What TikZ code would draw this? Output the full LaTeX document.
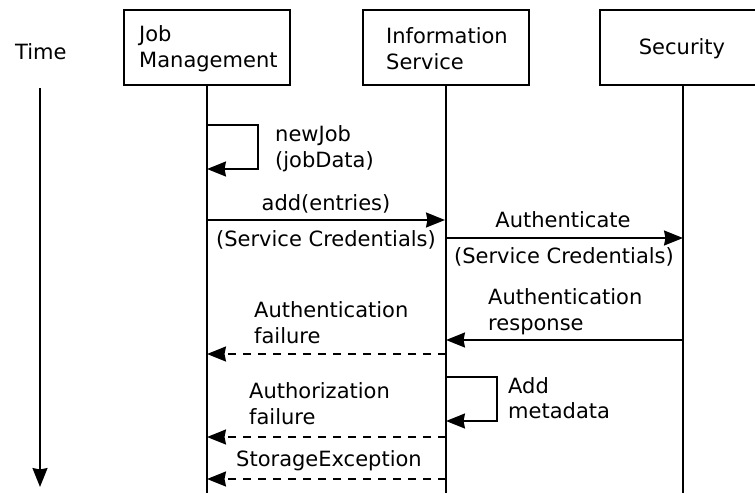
\documentclass[tikz,border=0pt]{standalone}
\usepackage{fontspec}
\setmainfont{DejaVu Sans}
\usetikzlibrary{arrows.meta}
\begin{document}
\begin{tikzpicture}[x=1pt,y=-1pt,
  every node/.style={font=\fontsize{21}{26}\selectfont},
  lane/.style={draw, line width=1.6pt, minimum width=166pt, minimum height=75pt, inner sep=0pt},
  lbl/.style={anchor=base west, inner sep=0pt},
  clbl/.style={anchor=base, inner sep=0pt},
  life/.style={line width=1.6pt},
  msg/.style={line width=1.6pt, -{Stealth[length=19pt,width=15pt,inset=1.5pt]}},
  reply/.style={msg, dash pattern=on 8pt off 7pt}]
\useasboundingbox (0,0) rectangle (755,493);

% participant boxes
\node[lane] (jm)  at (207,47.5) {};
\node[lane] (is)  at (446,47.5) {};
\node[lane] (sec) at (683,47.5) {};

\node[lbl]  (tJob)  at (139,41) {Job};
\node[lbl]  (tMgmt) at (139,67) {Management};
\node[lbl]  (tInfo) at (386,43) {Information};
\node[lbl]  (tSvc)  at (386,69) {Service};
\node[clbl] (tSec)  at (682,54) {Security};

% time axis
\node[lbl] (tTime) at (15,59) {Time};
\coordinate (t0) at (40,88);
\coordinate (t1) at (40,487);
\draw[msg] (t0) -- (t1);

% lifelines
\coordinate (jmEnd)  at (207,493);
\coordinate (isEnd)  at (446,493);
\coordinate (secEnd) at (683,493);
\draw[life] (jm.south) -- (jmEnd);
\draw[life] (is.south) -- (isEnd);
\draw[life] (sec.south) -- (secEnd);

% newJob(jobData): self call on Job Management
\coordinate (j1) at (207,125);
\coordinate (j2) at (207,169);
\draw[msg] (j1) -- ++(51,0) |- (j2);
\node[lbl] (lNew1) at (275,141) {newJob};
\node[lbl] (lNew2) at (275,167) {(jobData)};

% add(entries)
\coordinate (a1) at (207,220);
\coordinate (a2) at (445,220);
\draw[msg] (a1) -- (a2);
\node[clbl] (lAdd1) at (326,210.5) {add(entries)};
\node[clbl] (lAdd2) at (326,246.5) {(Service Credentials)};

% Authenticate
\coordinate (b1) at (446,238);
\coordinate (b2) at (683,238);
\draw[msg] (b1) -- (b2);
\node[clbl] (lAuth1) at (563,227) {Authenticate};
\node[clbl] (lAuth2) at (564,263) {(Service Credentials)};

% Authentication response
\coordinate (c1) at (683,340);
\coordinate (c2) at (446,340);
\draw[msg] (c1) -- (c2);
\node[lbl] (lResp1) at (488,304) {Authentication};
\node[lbl] (lResp2) at (488,330) {response};

% Authentication failure
\coordinate (d1) at (446,354);
\coordinate (d2) at (207,354);
\draw[reply] (d1) -- (d2);
\node[lbl] (lFail1) at (254,317) {Authentication};
\node[lbl] (lFail2) at (254,343) {failure};

% Add metadata: self call on Information Service
\coordinate (e1) at (446,377);
\coordinate (e2) at (446,421);
\draw[msg] (e1) -- ++(51,0) |- (e2);
\node[lbl] (lMeta1) at (508,393) {Add};
\node[lbl] (lMeta2) at (508,418) {metadata};

% Authorization failure
\coordinate (f1) at (446,437);
\coordinate (f2) at (207,437);
\draw[reply] (f1) -- (f2);
\node[lbl] (lAuthz1) at (249,398) {Authorization};
\node[lbl] (lAuthz2) at (249,424) {failure};

% StorageException
\coordinate (g1) at (446,479);
\coordinate (g2) at (207,479);
\draw[reply] (g1) -- (g2);
\node[lbl] (lStore) at (236,466) {StorageException};
\end{tikzpicture}
\end{document}
